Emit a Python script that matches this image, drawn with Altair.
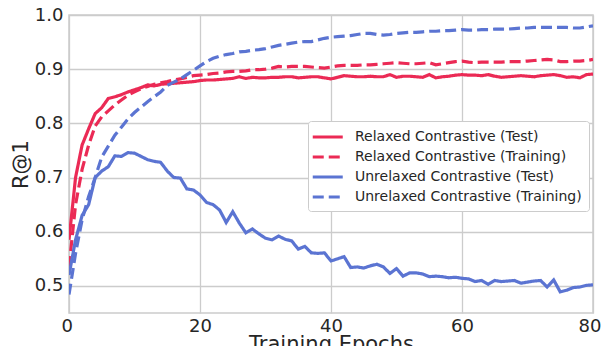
import altair as alt
import pandas as pd

epochs = list(range(81))

relaxed_test = [0.585, 0.700, 0.760, 0.790, 0.818, 0.829, 0.846, 0.849, 0.853, 0.858,
                0.862, 0.866, 0.871, 0.869, 0.872, 0.873, 0.874, 0.875, 0.876, 0.877,
                0.879, 0.880, 0.880, 0.881, 0.882, 0.883, 0.886, 0.883, 0.885, 0.884,
                0.884, 0.885, 0.885, 0.886, 0.886, 0.884, 0.885, 0.886, 0.886, 0.884,
                0.882, 0.885, 0.888, 0.887, 0.886, 0.886, 0.887, 0.886, 0.886, 0.890,
                0.885, 0.887, 0.887, 0.886, 0.885, 0.890, 0.884, 0.886, 0.887, 0.889,
                0.890, 0.889, 0.889, 0.888, 0.890, 0.887, 0.885, 0.886, 0.887, 0.888,
                0.887, 0.886, 0.888, 0.889, 0.890, 0.888, 0.885, 0.886, 0.884, 0.890,
                0.891]

relaxed_train = [0.535, 0.650, 0.715, 0.760, 0.795, 0.812, 0.823, 0.834, 0.843, 0.852,
                 0.858, 0.864, 0.868, 0.872, 0.875, 0.877, 0.880, 0.882, 0.885, 0.888,
                 0.889, 0.890, 0.892, 0.893, 0.895, 0.896, 0.896, 0.897, 0.899, 0.899,
                 0.900, 0.902, 0.905, 0.904, 0.905, 0.905, 0.905, 0.904, 0.903, 0.902,
                 0.904, 0.906, 0.907, 0.907, 0.907, 0.908, 0.908, 0.909, 0.910, 0.911,
                 0.912, 0.911, 0.910, 0.910, 0.911, 0.912, 0.908, 0.910, 0.912, 0.914,
                 0.915, 0.913, 0.912, 0.913, 0.913, 0.913, 0.913, 0.914, 0.914, 0.914,
                 0.915, 0.916, 0.917, 0.918, 0.917, 0.914, 0.914, 0.915, 0.915, 0.916,
                 0.918]

unrelaxed_test = [0.520, 0.585, 0.630, 0.650, 0.700, 0.712, 0.720, 0.740, 0.739, 0.746,
                  0.745, 0.739, 0.733, 0.730, 0.728, 0.712, 0.700, 0.699, 0.679, 0.677,
                  0.668, 0.654, 0.650, 0.640, 0.617, 0.637, 0.616, 0.598, 0.605, 0.596,
                  0.588, 0.585, 0.592, 0.586, 0.583, 0.568, 0.573, 0.561, 0.560, 0.561,
                  0.546, 0.550, 0.554, 0.534, 0.535, 0.533, 0.537, 0.540, 0.535, 0.523,
                  0.532, 0.518, 0.524, 0.524, 0.522, 0.517, 0.518, 0.517, 0.515, 0.516,
                  0.514, 0.513, 0.508, 0.510, 0.503, 0.510, 0.508, 0.509, 0.510, 0.505,
                  0.507, 0.509, 0.510, 0.498, 0.511, 0.489, 0.492, 0.497, 0.498, 0.501,
                  0.502]

unrelaxed_train = [0.484, 0.560, 0.622, 0.665, 0.700, 0.738, 0.758, 0.778, 0.793, 0.808,
                   0.820, 0.830, 0.840, 0.849, 0.858, 0.870, 0.876, 0.882, 0.890, 0.898,
                   0.906, 0.914, 0.920, 0.924, 0.927, 0.929, 0.932, 0.933, 0.935, 0.936,
                   0.938, 0.941, 0.944, 0.946, 0.948, 0.950, 0.951, 0.951, 0.954, 0.957,
                   0.959, 0.960, 0.961, 0.962, 0.964, 0.966, 0.966, 0.964, 0.963, 0.964,
                   0.966, 0.967, 0.968, 0.968, 0.969, 0.970, 0.970, 0.971, 0.971, 0.972,
                   0.973, 0.972, 0.972, 0.973, 0.973, 0.974, 0.974, 0.974, 0.975, 0.976,
                   0.976, 0.977, 0.977, 0.977, 0.977, 0.977, 0.977, 0.976, 0.976, 0.978,
                   0.980]

series_names = ["Relaxed Contrastive (Test)", "Relaxed Contrastive (Training)",
                "Unrelaxed Contrastive (Test)", "Unrelaxed Contrastive (Training)"]
series_values = [relaxed_test, relaxed_train, unrelaxed_test, unrelaxed_train]
series_colors = ["#eb2a55", "#eb2a55", "#5b74d2", "#5b74d2"]
series_dashes = [[1, 0], [11, 5], [1, 0], [11, 5]]

rows = []
for name, vals in zip(series_names, series_values):
    for e, v in zip(epochs, vals):
        rows.append({"epoch": e, "value": v, "series": name})
df = pd.DataFrame(rows)

FONT = "DejaVu Sans"

legend = alt.Legend(
    title=None, orient="none", legendX=239, legendY=106,
    symbolType="M-1.5,0H2.5", symbolSize=225, symbolStrokeWidth=3,
    labelFontSize=14, labelFont=FONT, labelColor="#262626", labelOffset=22,
    labelLimit=400,
    padding=7, rowPadding=4, fillColor="white", strokeColor="#cccccc",
    cornerRadius=3,
)

chart = alt.Chart(df).mark_line(strokeWidth=3.2, clip=True).encode(
    x=alt.X("epoch:Q", scale=alt.Scale(domain=[0, 80], nice=False, zero=False, padding=0),
            axis=alt.Axis(values=[0, 20, 40, 60, 80], title="Training Epochs", format="d",
                          labelFlush=True, labelFlushOffset=8,
                          titleBaseline="alphabetic", titleY=37)),
    y=alt.Y("value:Q", scale=alt.Scale(domain=[0.45, 1.0], nice=False, zero=False, padding=0),
            axis=alt.Axis(values=[0.5, 0.6, 0.7, 0.8, 0.9, 1.0], format=".1f", title="R@1",
                          labelFlush=False)),
    color=alt.Color("series:N", scale=alt.Scale(domain=series_names, range=series_colors),
                    legend=legend),
    strokeDash=alt.StrokeDash("series:N", scale=alt.Scale(domain=series_names, range=series_dashes),
                              legend=legend),
    order=alt.Order("epoch:Q"),
).properties(
    width=524, height=298,
    autosize=alt.AutoSizeParams(type="none"),
    padding={"left": 61, "top": 7, "right": 9, "bottom": 33},
).configure_view(
    stroke="#cccccc", strokeWidth=1.5,
).configure_axis(
    grid=True, gridColor="#cccccc", gridWidth=1.3, domain=False, ticks=False,
    labelFont=FONT, labelFontSize=18, labelColor="#262626",
    titleFont=FONT, titleFontSize=21, titleColor="#262626", titleFontWeight="normal",
).configure_axisX(
    labelPadding=4,
).configure_axisY(
    labelPadding=6, titlePadding=3,
)

chart.save("out.html", embed_options={"renderer": "svg", "actions": False})
